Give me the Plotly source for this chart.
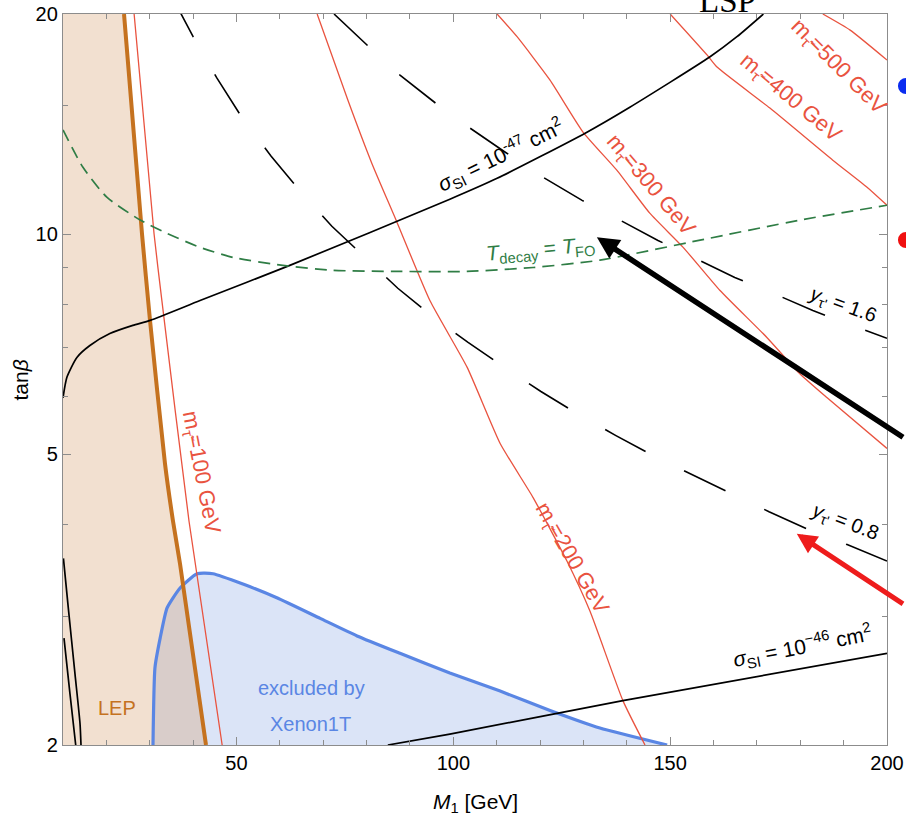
import numpy as np
import plotly.graph_objects as go

# ---------------- axes ----------------
x_range = [10, 200]
y_range = [2, 20]
x_major = [50, 100, 150, 200]
x_minor = [20, 30, 40, 60, 70, 80, 90, 110, 120, 130, 140, 160, 170, 180, 190]
y_major = [2, 5, 10, 20]
y_minor = [3, 4, 6, 7, 8, 9, 15]

# ---------------- regions ----------------
lep_m1 = [24.07, 28.22, 30.06, 33.52, 35.36, 36.98, 42.97]
lep_tb = [20.0, 10.0, 7.62, 4.85, 4.05, 3.54, 2.0]

xe_m1 = [30.75, 31.2, 32.4, 34.0, 37.0, 40.9, 44.6, 51.5, 59.3, 69.3, 77.8, 87.7, 99.2, 110.8, 122.3, 133.8, 149.3]
xe_tb = [2.0, 2.55, 2.80, 3.08, 3.28, 3.43, 3.43, 3.32, 3.18, 2.98, 2.82, 2.67, 2.51, 2.37, 2.23, 2.11, 2.0]

# ---------------- stau mass contours ----------------
m100_m1 = [26.4, 31.0, 32.8, 39.05, 46.7]
m100_tb = [20.0, 10.0, 8.11, 4.05, 2.0]
m200_m1 = [68.6, 75.7, 81.2, 87.0, 94.6, 103.2, 110.8, 118.4, 126.2, 131.5, 139.1, 144.2]
m200_tb = [20.0, 15.24, 12.50, 10.38, 8.11, 6.57, 5.17, 4.36, 3.57, 3.05, 2.30, 2.0]
m300_m1 = [110.1, 114.7, 122.3, 129.9, 137.7, 145.3, 153.0, 161.5, 172.3, 179.9, 186.2, 200.0]
m300_tb = [20.0, 18.62, 16.24, 13.79, 12.23, 10.68, 9.59, 8.37, 7.22, 6.44, 5.97, 5.09]
m400_m1 = [150.0, 158.5, 160.8, 173.0, 187.5, 195.4, 200.0]
m400_tb = [20.0, 17.58, 16.92, 14.87, 12.62, 11.59, 10.95]
m500_m1 = [185.2, 191.5, 200.0]
m500_tb = [20.0, 19.01, 17.30]

# ---------------- cross-section contours ----------------
s47_m1 = [10.0, 10.9, 13.2, 16.2, 20.8, 26.1, 30.1, 41.6, 62.3, 99.2, 110.1, 130.4, 140.7, 159.2, 165.4, 171.5]
s47_tb = [5.97, 6.37, 6.78, 7.04, 7.31, 7.50, 7.62, 8.11, 9.06, 11.16, 11.92, 13.74, 14.91, 17.48, 18.62, 20.0]
s46_m1 = [84.9, 99.2, 139.1, 200.0]
s46_tb = [2.0, 2.07, 2.30, 2.67]
s46b1_m1 = [10.1, 11.22, 12.77, 13.92, 14.15]
s46b1_tb = [3.60, 3.08, 2.50, 2.14, 2.0]
s46b2_m1 = [10.23, 11.61, 12.93]
s46b2_tb = [2.80, 2.35, 2.0]

# ---------------- Yukawa contours ----------------
y16_m1 = [72.5, 80.3, 87.7, 96.0, 103.8, 111.9, 120.7, 129.7, 138.0, 147.2, 155.7, 164.9, 173.7, 182.9, 191.9, 200.0]
y16_tb = [20.0, 18.09, 16.50, 15.09, 13.97, 12.95, 11.96, 11.12, 10.48, 9.80, 9.27, 8.72, 8.30, 7.86, 7.50, 7.20]
y08_m1 = [35.1, 37.2, 40.0, 45.5, 51.5, 58.0, 65.1, 72.0, 79.9, 87.2, 95.5, 103.4, 112.1, 120.2, 129.0,
          137.5, 146.5, 155.0, 164.3, 172.8, 182.0, 190.8, 200.0]
y08_tb = [21.14, 20.0, 18.62, 16.34, 14.36, 12.78, 11.37, 10.25, 9.27, 8.43, 7.69, 7.11, 6.55, 6.09, 5.66,
          5.30, 4.96, 4.69, 4.40, 4.17, 3.94, 3.76, 3.57]

# ---------------- T_decay = T_FO ----------------
td_m1 = [10.0, 14.6, 20.1, 27.8, 34.0, 41.6, 49.2, 60.7, 72.3, 87.7, 103.2, 118.4, 133.8, 156.9, 179.9, 200.0]
td_tb = [13.88, 12.34, 11.23, 10.45, 10.02, 9.59, 9.29, 9.06, 8.92, 8.89, 8.89, 9.00, 9.21, 9.81, 10.45, 10.95]

RED = "#e9533f"
BLUE = "#5a86e4"
ORANGE = "#c5721f"
GREEN = "#2f7d45"
FONT = "Liberation Sans"

fig = go.Figure()

# Xenon fill
fig.add_trace(go.Scatter(x=xe_m1 + [xe_m1[0]], y=xe_tb + [xe_tb[0]], mode="lines", fill="toself",
                         fillcolor="rgb(219,228,247)", line=dict(width=0), hoverinfo="skip"))
# LEP fill
fig.add_trace(go.Scatter(x=[x_range[0], x_range[0]] + lep_m1 + [x_range[0]],
                         y=[y_range[0], y_range[1]] + lep_tb + [y_range[0]],
                         mode="lines", fill="toself", fillcolor="rgba(212,152,98,0.30)",
                         line=dict(width=0), hoverinfo="skip"))
# Xenon border
fig.add_trace(go.Scatter(x=xe_m1, y=xe_tb, mode="lines", line=dict(color=BLUE, width=3.2, shape="spline", smoothing=0.5)))
# LEP border
fig.add_trace(go.Scatter(x=lep_m1, y=lep_tb, mode="lines", line=dict(color=ORANGE, width=4, shape="spline", smoothing=0.5)))

# stau mass lines
for xs, ys in [(m100_m1, m100_tb), (m200_m1, m200_tb), (m300_m1, m300_tb), (m400_m1, m400_tb), (m500_m1, m500_tb)]:
    fig.add_trace(go.Scatter(x=xs, y=ys, mode="lines", line=dict(color=RED, width=1.3, shape="spline", smoothing=0.5)))

# sigma lines
for xs, ys in [(s47_m1, s47_tb), (s46_m1, s46_tb), (s46b1_m1, s46b1_tb), (s46b2_m1, s46b2_tb)]:
    fig.add_trace(go.Scatter(x=xs, y=ys, mode="lines", line=dict(color="black", width=1.7, shape="spline", smoothing=0.6)))

# yukawa dashed
for xs, ys in [(y16_m1, y16_tb), (y08_m1, y08_tb)]:
    fig.add_trace(go.Scatter(x=xs, y=ys, mode="lines", line=dict(color="black", width=1.6, dash="46px,43px")))

# T decay
fig.add_trace(go.Scatter(x=td_m1, y=td_tb, mode="lines",
                         line=dict(color=GREEN, width=1.7, dash="12px,7px", shape="spline", smoothing=0.6)))

lg = np.log10

def lab(x, t, text, angle, color, size):
    return dict(x=x, y=lg(t), xref="x", yref="y", text=text, showarrow=False, textangle=angle,
                font=dict(family=FONT, size=size, color=color), xanchor="center", yanchor="middle")

tau = "τ\u0303"
annotations = [
    lab(41.6, 4.72, "m<sub>%s</sub>=100 GeV" % tau, 79, RED, 22),
    lab(127.1, 3.60, "m<sub>%s</sub>=200 GeV" % tau, 60, RED, 22),
    lab(145.3, 11.66, "m<sub>%s</sub>=300 GeV" % tau, 50, RED, 22),
    lab(177.6, 15.34, "m<sub>%s</sub>=400 GeV" % tau, 40, RED, 22),
    lab(188.7, 16.92, "m<sub>%s</sub>=500 GeV" % tau, 45, RED, 22),
    lab(110.8, 12.82, "<i>σ</i><sub>SI</sub> = 10<sup>-47</sup> cm<sup>2</sup>", -26, "black", 21),
    lab(180.4, 2.73, "<i>σ</i><sub>SI</sub> = 10<sup>−46</sup> cm<sup>2</sup>", -11, "black", 21),
    lab(189.8, 7.99, "<i>y</i><sub>τ'</sub> = 1.6", 20, "black", 20),
    lab(190.3, 4.03, "<i>y</i><sub>τ'</sub> = 0.8", 21, "black", 20),
    lab(120.0, 9.50, "<i>T</i><sub>decay</sub> = <i>T</i><sub>FO</sub>", -5, GREEN, 21),
    lab(22.45, 2.25, "LEP", 0, ORANGE, 20),
    lab(67.2, 2.39, "excluded by", 0, BLUE, 20),
    lab(67.0, 2.14, "Xenon1T", 0, BLUE, 20),
    # arrows
    dict(x=133.1, y=lg(9.90), xref="x", yref="y", ax=323, ay=202, axref="pixel", ayref="pixel",
         showarrow=True, arrowhead=2, arrowsize=0.8, arrowwidth=5.5, arrowcolor="black", text=" "),
    dict(x=179.2, y=lg(3.89), xref="x", yref="y", ax=123, ay=72, axref="pixel", ayref="pixel",
         showarrow=True, arrowhead=2, arrowsize=0.8, arrowwidth=5, arrowcolor="#ee1c1c", text=" "),
    # axis titles
    dict(x=0.5, y=-0.0793, xref="paper", yref="paper", text="<i>M</i><sub>1</sub> [GeV]", showarrow=False,
         font=dict(family=FONT, size=21, color="black"), xanchor="center", yanchor="middle"),
    dict(x=-0.051, y=0.5, xref="paper", yref="paper", text="tan<i>β</i>", showarrow=False, textangle=-90,
         font=dict(family=FONT, size=21, color="black"), xanchor="center", yanchor="middle"),
    # clipped title
    dict(x=0.807, y=1.0178, xref="paper", yref="paper", text="LSP", showarrow=False,
         font=dict(family="Liberation Serif", size=33, color="black"), xanchor="center", yanchor="middle"),
]

shapes = [
    dict(type="circle", xref="paper", yref="paper", x0=1.0133, x1=1.0328, y0=0.8906, y1=0.9124,
         fillcolor="#0a2cf0", line=dict(width=0)),
    dict(type="circle", xref="paper", yref="paper", x0=1.0133, x1=1.0328, y0=0.6799, y1=0.7018,
         fillcolor="#f01010", line=dict(width=0)),
]

axis_common = dict(showgrid=False, zeroline=False, showline=True, linecolor="#8c8c8c", linewidth=1.3,
                   ticks="inside", ticklen=8, tickwidth=1.1, tickcolor="#8c8c8c", mirror="ticks",
                   automargin=False, tickfont=dict(family=FONT, size=20, color="black"))

fig.update_layout(
    width=906, height=820, margin=dict(l=63, r=19, t=14, b=75, autoexpand=False),
    paper_bgcolor="white", plot_bgcolor="white", showlegend=False,
    xaxis=dict(range=x_range, tickmode="array", tickvals=x_major, ticktext=[str(v) for v in x_major],
               minor=dict(tickmode="array", tickvals=x_minor, ticks="inside", ticklen=5, tickcolor="#8c8c8c", tickwidth=1),
               **axis_common),
    yaxis=dict(type="log", range=[lg(y_range[0]) - 1e-9, lg(y_range[1]) + 1e-9], tickmode="array",
               tickvals=y_major, ticktext=[str(v) for v in y_major],
               minor=dict(tickmode="array", tickvals=y_minor, ticks="inside", ticklen=5, tickcolor="#8c8c8c", tickwidth=1),
               **axis_common),
    annotations=annotations, shapes=shapes,
)

fig.write_html("out.html")
